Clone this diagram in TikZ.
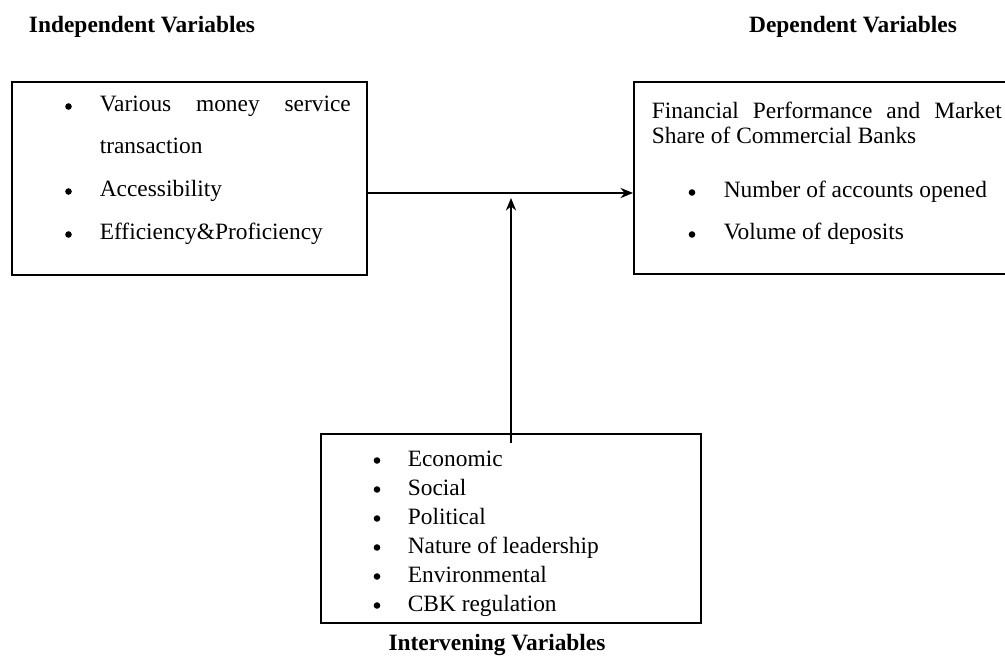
\documentclass[tikz,border=0pt]{standalone}
\usepackage{fontspec}
\setmainfont{Liberation Serif}
\usetikzlibrary{fit,arrows.meta}

\begin{document}
\begin{tikzpicture}[x=0.5pt,y=-0.5pt,line width=0.8pt,
  box/.style={draw,line width=1pt,inner sep=0pt,rectangle},
  txt/.style={inner sep=0pt,anchor=base west,font=\fontsize{11.7}{14}\selectfont},
  dot/.style={circle,fill,inner sep=0pt,minimum size=3.3pt},
  head/.style={inner sep=0pt,anchor=base,font=\fontsize{11.7}{14}\selectfont\bfseries},
  link/.style={-{Stealth[length=2.2mm,width=1.8mm]},line width=0.8pt}]
\clip (0,0) rectangle (1005,657);
\newcommand{\bitem}[5]{\node[dot] (#1b) at (#2,#4-5.5) {}; \node[txt] (#1) at (#3,#4) {#5};}
% boxes
\coordinate (l1) at (12,82);  \coordinate (l2) at (367,275);
\coordinate (r1) at (634,82); \coordinate (r2) at (1012,274);
\coordinate (m1) at (321,434); \coordinate (m2) at (701,623);
\node[box,fit=(l1)(l2)] (indep) {};
\node[box,fit=(r1)(r2)] (dep) {};
\node[box,fit=(m1)(m2)] (interv) {};
% headings
\node[head] (indeph) at (142,33) {Independent Variables};
\node[head] (deph) at (853,33) {Dependent Variables};
\node[head] (intervh) at (497,650) {Intervening Variables};
% independent
\bitem{i1}{68.5}{99}{112}{\makebox[125.5pt][s]{Various money service}}
\node[txt] (i1a) at (99,154) {transaction};
\bitem{i2}{68.5}{99}{197}{Accessibility}
\bitem{i3}{68.5}{99}{240}{Efficiency\&Proficiency}
% dependent
\node[txt] (d0) at (651,119) {\makebox[175pt][s]{Financial Performance and Market}};
\node[txt] (d0a) at (651,144) {Share of Commercial Banks};
\bitem{d1}{692}{723}{198}{Number of accounts opened}
\bitem{d2}{692}{723}{240}{Volume of deposits}
% intervening
\bitem{v1}{377}{407}{466}{Economic}
\bitem{v2}{377}{407}{495}{Social}
\bitem{v3}{377}{407}{524}{Political}
\bitem{v4}{377}{407}{553}{Nature of leadership}
\bitem{v5}{377}{407}{582}{Environmental}
\bitem{v6}{377}{407}{611}{CBK regulation}
% connectors
\coordinate (hstart) at (367,193);
\coordinate (hend) at (634,193);
\coordinate (vstart) at (511,443);
\coordinate (vend) at (511,198);
\draw[link] (indep.east|-hstart) -- (dep.west|-hend);
\draw[link] (vstart) -- (vend);
\end{tikzpicture}
\end{document}
